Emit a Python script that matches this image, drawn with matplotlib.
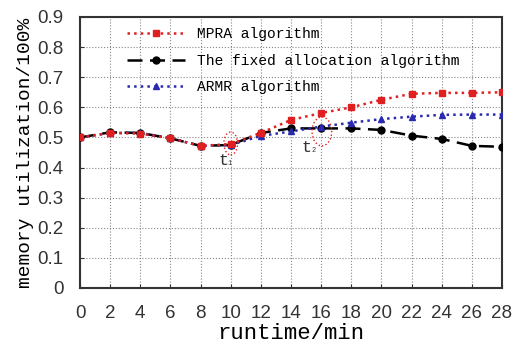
import numpy as np
import matplotlib
matplotlib.use('Agg')
import matplotlib.pyplot as plt
from matplotlib.patches import Ellipse

runtime = [0, 2, 4, 6, 8, 10, 12, 14, 16, 18, 20, 22, 24, 26, 28]
mpra = [0.500, 0.515, 0.513, 0.497, 0.472, 0.478, 0.515, 0.558, 0.581, 0.600,
        0.625, 0.645, 0.648, 0.648, 0.650]
fixed = [0.500, 0.517, 0.515, 0.497, 0.472, 0.475, 0.515, 0.530, 0.530, 0.530,
         0.525, 0.506, 0.495, 0.472, 0.469]
armr = [0.500, 0.515, 0.515, 0.497, 0.472, 0.475, 0.505, 0.520, 0.536, 0.549,
        0.561, 0.569, 0.575, 0.576, 0.576]

xticks = list(range(0, 29, 2))
yticks = [0, 0.1, 0.2, 0.3, 0.4, 0.5, 0.6, 0.7, 0.8, 0.9]
ytick_labels = ['0', '0.1', '0.2', '0.3', '0.4', '0.5', '0.6', '0.7', '0.8', '0.9']

label_font = 'Liberation Mono'
tick_font = 'Liberation Sans'

fig = plt.figure(figsize=(5.16, 3.49), dpi=100)
ax = fig.add_axes([80 / 516, 1 - 288 / 349, 422 / 516, 271 / 349])

ax.plot(runtime, fixed, color='black', ls=(0, (6, 3)), lw=1.8, marker='o', ms=5,
        label='The fixed allocation algorithm', zorder=3)
ax.plot(runtime, armr, color='#2a2ab0', ls=':', lw=1.8, marker='^', ms=5,
        label='ARMR algorithm', zorder=4)
ax.plot(runtime, mpra, color='#e02020', ls=':', lw=1.8, marker='s', ms=5,
        label='MPRA algorithm', zorder=5)

# t1 / t2 markers
ax.add_patch(Ellipse((10.0, 0.48), 0.9, 0.076, fill=False, ec='#e02020', ls=':', lw=1, zorder=6))
ax.add_patch(Ellipse((16.05, 0.52), 1.3, 0.096, fill=False, ec='#e02020', ls=':', lw=1, zorder=6))
ax.text(9.5, 0.425, 't', fontsize=12, family=label_font, ha='center', va='center', color='#333333')
ax.text(9.95, 0.412, '1', fontsize=5, family=label_font, ha='center', va='center', color='#333333')
ax.text(15.05, 0.468, 't', fontsize=12, family=label_font, ha='center', va='center', color='#333333')
ax.text(15.5, 0.455, '2', fontsize=5, family=label_font, ha='center', va='center', color='#333333')

ax.set_xlim(0, 28)
ax.set_ylim(0, 0.9)
ax.set_xticks(xticks)
ax.set_yticks(yticks)
ax.set_yticklabels(ytick_labels)
ax.tick_params(direction='in', length=3, labelsize=13.5, colors='#333333')
ax.tick_params(axis='x', pad=12)
ax.tick_params(axis='y', pad=12)
for lab in ax.get_xticklabels() + ax.get_yticklabels():
    lab.set_family(tick_font)
ax.grid(True, color='#888888', ls=':', lw=0.8)
for sp in ax.spines.values():
    sp.set_linewidth(1.5)
    sp.set_color('#333333')

ax.set_xlabel('runtime/min', family=label_font, fontsize=16, labelpad=1)
ax.set_ylabel('memory utilization/100%', family=label_font, fontsize=14, labelpad=2)

handles, labels = ax.get_legend_handles_labels()
order = [2, 0, 1]
ax.legend([handles[i] for i in order], [labels[i] for i in order],
          loc='upper left', bbox_to_anchor=(0.08, 1.01), frameon=False,
          prop={'family': label_font, 'size': 10.5}, handlelength=4,
          labelspacing=0.85, handletextpad=0.8)

fig.savefig('out.png', dpi=100)
